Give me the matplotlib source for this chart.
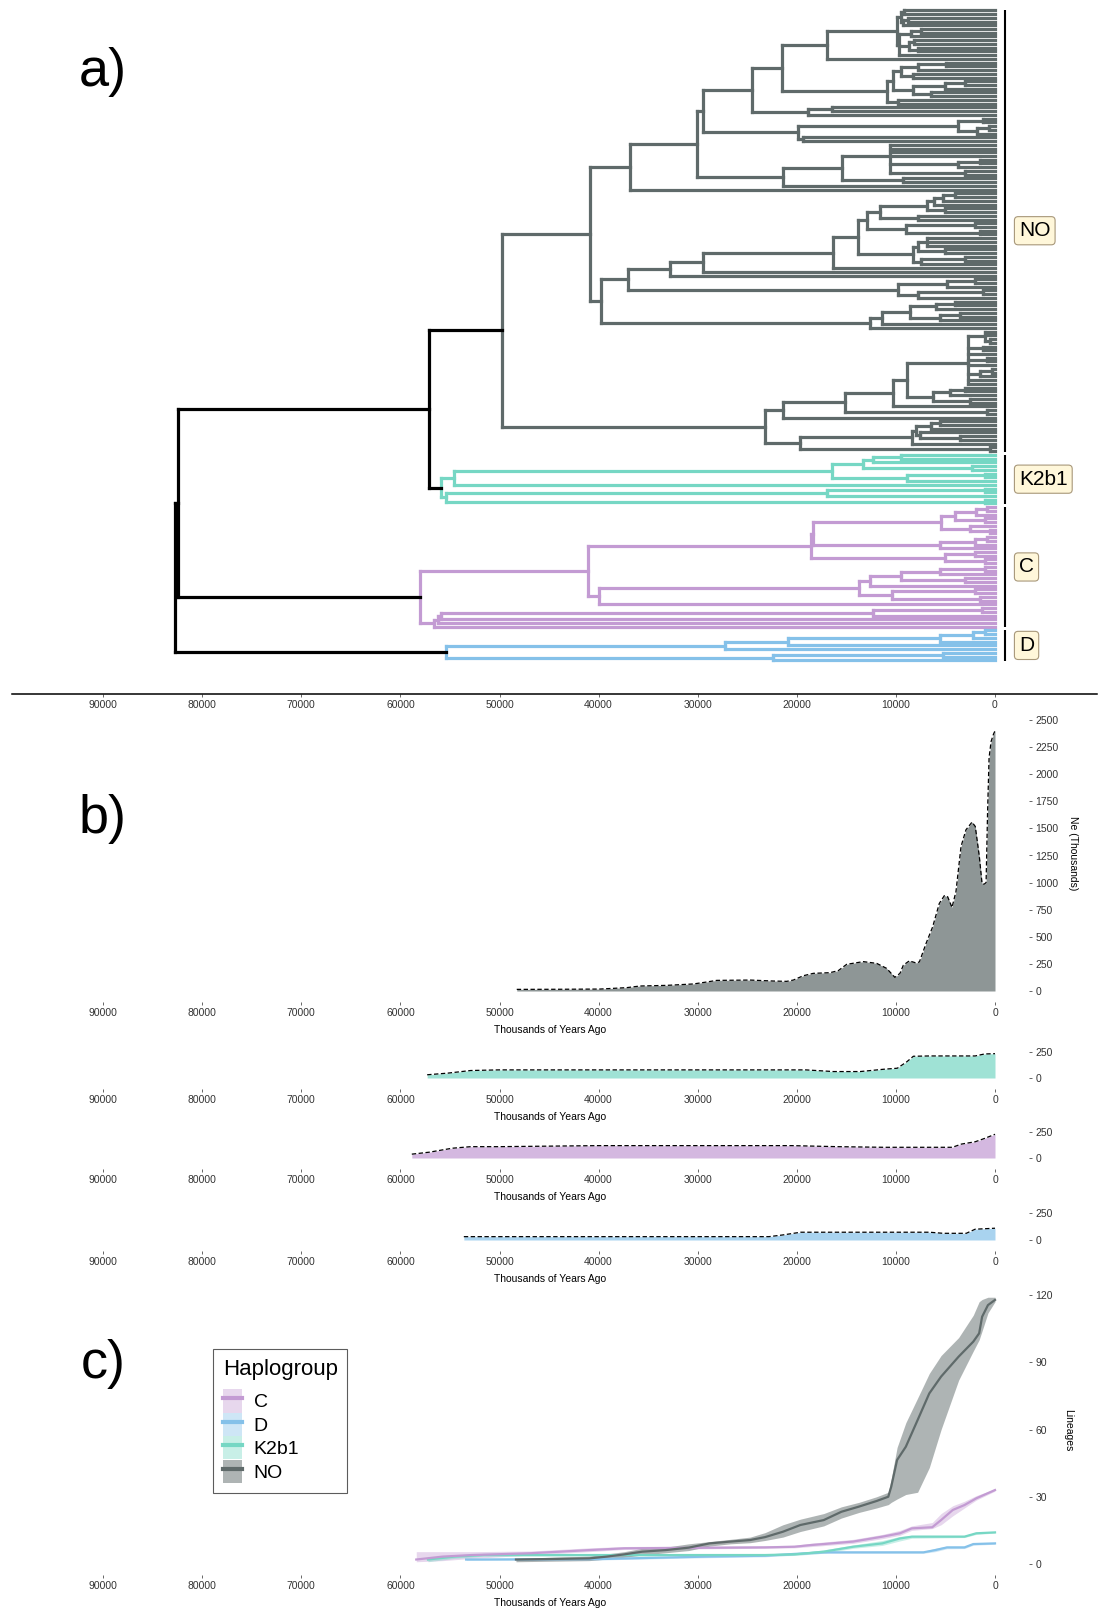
import numpy as np
import matplotlib
matplotlib.use("Agg")
import matplotlib.pyplot as plt
from matplotlib.collections import LineCollection
from matplotlib.patches import Patch
from matplotlib.lines import Line2D

plt.rcParams['font.family'] = ['Liberation Sans', 'DejaVu Sans']

# ---------------- DATA ----------------
# Tree (node labels = age in years ago, leaves = L)
C896 = "(((L,L)9200,((L,L)8800,L)9300)9500,(((L,L)7500,L)8500,((L,L)8200,(L,L)7800)8700,L)9700)9900"
N827 = "(" + C896 + ",L)16950"
C887 = "(((((L,L)4950,L)7800,(L,L)8300)9500,(((L,L)3000,L)5000,(L,L)6500)8300)10300,(L,L)9800)10900"
N752 = "((" + N827 + "," + C887 + ")21490,((L,L)16450,L)18870)24520"
N798 = "(((L,L)1200,((L,L)600,L)1800)3730,(L,L)19370)19880"
N703 = "(" + N752 + "," + N798 + ")29460"
N783 = "(((L,L,L,L,((L,L)1500,L)3730,(L,L)3030)10600,(L,L)9280)15440,L)21390"
N630 = "((" + N703 + "," + N783 + ")30070,L)36830"
N867 = "((((((L,L)4040,L)5200,L)6200,(L,L)5000)6860,(L,L)7770)11600,((L,L)2000,(L,L)1500)9000)12900"
N913 = "(((L,L,L)6860,(L,L)5000)7800,((L,L)3000,L)7500)8270"
N670 = "((((" + N867 + "," + N913 + ")13820,L)16350,L)29460,L)32790"
N898 = "(((L,L)2000,L)4840,((L,L)1200,L)7800)9790"
N870 = "(((((L,L)4000,L)6000,((L,L)3500,L)5500)8580,L)11400,L)12600"
N601 = "((" + N670 + "," + N898 + ")37030," + N870 + ")39760"
C968 = "((L,L,(L,L)500)1000,(L,L)1200,L,(L,L)800,L,((L,L)300,L)1500,L,L)2720"
N783b = "((((" + C968 + ",(((L,L)3000,L)4500,(L,L)2500)6260)8880,L)10290,(L,L)800)15140,L)21390"
N800 = "(((((L,L)5500,L)6500,(L,(L,L)3500)7600)8000,L)8370,(L,L)500)19680"
TREE_NO = "((" + N630 + "," + N601 + ")40870,(" + N783b + "," + N800 + ")23200)49750"

TREE_K2B1 = "((((((L,L)9490,L)12350,(L,L)2320)13320,((L,L)1000,L)8880)16480,L)54620,(((L,L)1000,L)16980,(L,L)960)55390)55900"

C_N872 = "((((L,L)810,L)1920,(L,L)1000)4040,(L,(L,L)500)2500)5400"
C_N758 = "((" + C_N872 + ",(((L,L)800,L)2000,L)5550)18360,((L,L)2000,(L,L)1000)5050)18570"
C_N573 = "((((((L,L)1000,L)5590,(L,L)3000)9490,L)12610,((L,L)2000,(L,L)1500)10410)13720,L)39960"
TREE_C = "((" + C_N758 + "," + C_N573 + ")41070,(((((L,L)1340,L)12350,L)55900,L)56200,L)56560)58020"

TREE_D = "((((((L,L)1000,L)2220,L)5550,L)20890,L)27240,((L,L)5250,L)22400)55400"

BACKBONE = "(((NO,K2b1)57110,C)82490,D)82740"

clades = ["NO", "K2b1", "C", "D"]
clade_colors = {"NO": "#5F6A6A", "K2b1": "#76D7C4", "C": "#C39BD3", "D": "#85C1E9"}

x_ticks = [0, 10000, 20000, 30000, 40000, 50000, 60000, 70000, 80000, 90000]

# Skyline (Ne, thousands) per haplogroup
NO_sky_t = [48260, 44000, 39850, 37160, 35820, 33130, 30440, 29090, 28080, 24720, 22370, 21020, 20350,
            19340, 18330, 16650, 15810, 14970, 13290, 11940, 10940, 10100, 9590, 9250, 8650, 7970, 7630,
            6960, 6290, 5620, 5110, 4780, 4340, 3940, 3430, 2930, 2320, 1990, 1580, 1310, 1100, 900, 750,
            600, 400, 150, 0]
NO_sky_ne = [15, 16, 18, 31, 46, 52, 65, 83, 98, 101, 92, 89, 101,
             141, 163, 169, 188, 246, 271, 255, 209, 126, 163, 238, 278, 259, 268,
             438, 592, 808, 880, 870, 771, 917, 1333, 1487, 1558, 1518, 1241, 994, 985, 1000, 1650,
             2150, 2300, 2370, 2400]
K2b1_sky_t = [57300, 55200, 52900, 50100, 19100, 16300, 13600, 11250, 9860, 8900, 8240, 6600, 2000, 1060, 0]
K2b1_sky_ne = [31, 47, 72, 78, 78, 62, 62, 84, 94, 156, 209, 212, 212, 231, 234]
C_sky_t = [58850, 57080, 54770, 52900, 50100, 40000, 29800, 20500, 15900, 11250, 4300, 3380, 2000, 1060, 0]
C_sky_ne = [37, 56, 94, 109, 109, 119, 119, 119, 109, 103, 103, 134, 156, 188, 228]
D_sky_t = [53600, 22800, 21400, 19600, 6600, 5230, 2900, 2000, 0]
D_sky_ne = [31, 31, 47, 72, 72, 62, 62, 100, 109]

# Lineages through time (median and interval)
NO_ltt_t = [48340, 40950, 39170, 37400, 35600, 33250, 30900, 28800, 26700, 24700, 23200, 21400, 19640,
            17280, 15500, 13730, 11950, 10770, 10470, 9880, 9000, 7810, 6630, 5440, 3670, 2190, 1600, 1300, 710, 0]
NO_ltt_n = [2, 2.5, 3.3, 4.3, 5.5, 6.2, 7.3, 9.2, 10, 10.7, 12, 14.4, 17.4,
            19.6, 23.3, 25.6, 28.1, 30, 34.5, 46.4, 52.3, 64.2, 76.1, 83.6, 92.5, 99.2, 102.9, 110.3, 115.5, 117.8]
NO_ltt_lo = [1, 1.5, 2.2, 3, 4, 5, 6, 8, 9, 9.5, 10.5, 12, 14.5,
             17, 20.5, 23, 25, 26.5, 27.5, 29, 31, 32, 43, 60, 82, 95, 100, 104, 112, 117]
NO_ltt_hi = [2.5, 3.5, 4.5, 5.5, 7, 7.5, 9, 10, 11, 12, 14, 17.5, 20,
             22.5, 25.5, 27.5, 30, 32, 38, 52, 63, 74, 85, 93, 101, 111, 117, 118, 119, 119]
C_ltt_t = [58400, 55740, 52780, 46860, 40950, 37400, 23200, 20240, 18460, 17280, 14320, 11360, 9590, 8400,
           6330, 5440, 4260, 3080, 1890, 0]
C_ltt_n = [2, 3.3, 4, 4.8, 6.2, 7, 7.4, 7.7, 8.5, 8.9, 10, 12.2, 13.7, 15.9, 16.4, 19.6, 24.1, 26.3, 29.3, 33]
C_ltt_lo = [1, 1.5, 2.5, 4, 5.5, 6.5, 7, 7.2, 7.8, 8.2, 9.2, 11.3, 12.8, 15, 15.8, 17.5, 21.5, 25, 28.5, 32.5]
C_ltt_hi = [5.5, 5.5, 5.5, 5.8, 7.2, 7.8, 8.2, 8.4, 9.3, 9.8, 11, 13.2, 15, 17, 18.5, 22.5, 26, 28, 30.5, 33.5]
K2b1_ltt_t = [57220, 54550, 51600, 23200, 20240, 17280, 14320, 11360, 9590, 8400, 3080, 1890, 0]
K2b1_ltt_n = [2, 3.3, 4, 4, 4.3, 5.5, 7.7, 9.2, 11.4, 12.2, 12.2, 13.7, 14.1]
K2b1_ltt_lo = [1, 2.5, 3.5, 3.6, 3.8, 4.8, 7, 8.3, 10.3, 11.5, 11.8, 13.2, 13.8]
K2b1_ltt_hi = [3, 4, 4.5, 4.4, 4.8, 6.3, 8.5, 10.5, 12.3, 12.8, 12.8, 14.2, 14.4]
D_ltt_t = [53370, 40000, 29100, 23200, 20240, 17280, 7220, 6040, 4850, 3080, 2190, 0]
D_ltt_n = [2, 2.2, 3.3, 3.7, 4.5, 5.2, 5.2, 6.2, 7.4, 7.4, 8.9, 9.2]
D_ltt_lo = [1.6, 1.8, 2.8, 3.2, 4, 4.8, 4.8, 5.5, 6.8, 6.9, 8.4, 8.8]
D_ltt_hi = [2.4, 2.6, 3.8, 4.2, 5, 5.6, 5.7, 7, 8, 8, 9.4, 9.5]

# ---------------- helpers ----------------
W, H = 1099, 1610
fig = plt.figure(figsize=(W / 100, H / 100), dpi=100)
fig.patch.set_facecolor('white')

X0_PX = 995.0      # pixel of year 0
PX_PER_YR = 0.00991


def px2yr(px):
    return (X0_PX - px) / PX_PER_YR


def add_ax(l, t, r, b):
    ax = fig.add_axes([l / W, 1 - b / H, (r - l) / W, (b - t) / H])
    ax.patch.set_visible(False)
    return ax


def parse(s):
    pos = 0

    def node():
        nonlocal pos
        if s[pos] == '(':
            pos += 1
            kids = [node()]
            while s[pos] == ',':
                pos += 1
                kids.append(node())
            pos += 1
            j = pos
            while pos < len(s) and s[pos] in '0123456789.':
                pos += 1
            return {'age': float(s[j:pos]), 'kids': kids}
        j = pos
        while pos < len(s) and s[pos] not in ',()':
            pos += 1
        return {'age': 0.0, 'kids': [], 'name': s[j:pos]}
    return node()


def set_color(n, c):
    n['color'] = c
    for k in n['kids']:
        set_color(k, c)


clade_strings = {"NO": TREE_NO, "K2b1": TREE_K2B1, "C": TREE_C, "D": TREE_D}
root = parse(BACKBONE)


def graft(n):
    n.setdefault('color', 'black')
    for i, k in enumerate(n['kids']):
        if not k['kids'] and k.get('name') in clade_strings:
            sub = parse(clade_strings[k['name']])
            set_color(sub, clade_colors[k['name']])
            sub['clade'] = k['name']
            n['kids'][i] = sub
        else:
            graft(k)


graft(root)

leaf_counter = [0]
clade_range = {}


def layout(n):
    if not n['kids']:
        n['y'] = leaf_counter[0]
        leaf_counter[0] += 1
        return
    start = leaf_counter[0]
    for k in n['kids']:
        layout(k)
    n['y'] = float(np.mean([k['y'] for k in n['kids']]))
    if 'clade' in n:
        clade_range[n['clade']] = (start, leaf_counter[0] - 1)


layout(root)

segs, cols = [], []


def collect(n):
    if not n['kids']:
        return
    ys = [k['y'] for k in n['kids']]
    segs.append([(n['age'], min(ys)), (n['age'], max(ys))])
    cols.append(n['color'])
    for k in n['kids']:
        segs.append([(n['age'], k['y']), (k['age'], k['y'])])
        cols.append(n['color'])
        collect(k)


collect(root)

tick_col = '#333333'
grid_col = '#4d4d4d'

# ---------------- panel a: tree ----------------
axa = add_ax(12, 0, 1097, 694)
leaf_px0, leaf_step = 10.3, 3.736
axa.set_ylim((694 - leaf_px0) / leaf_step, (0 - leaf_px0) / leaf_step)
axa.set_xlim(px2yr(12), px2yr(1097))
order = sorted(range(len(segs)), key=lambda i: cols[i] == 'black')
lc = LineCollection([segs[i] for i in order], colors=[cols[i] for i in order], linewidths=2.3,
                    capstyle='projecting')
axa.add_collection(lc)

bar_x = px2yr(1005)
for cl in clades:
    a, b = clade_range[cl]
    axa.plot([bar_x, bar_x], [a - 0.1, b + 0.1], color='black', lw=1.5, solid_capstyle='butt')
    axa.text(px2yr(1019), (a + b) / 2, cl, ha='left', va='center', fontsize=15,
             bbox=dict(boxstyle='round,pad=0.22,rounding_size=0.18', fc='#FFF7DA', ec='#a8987a', lw=0.8))

for s in ['top', 'left', 'right']:
    axa.spines[s].set_visible(False)
axa.spines['bottom'].set_linewidth(1.1)
axa.set_yticks([])
axa.set_xticks(x_ticks)
axa.set_xticklabels([str(t) for t in x_ticks])
axa.tick_params(axis='x', length=2.5, width=0.6, color=grid_col, labelsize=7.5, labelcolor=tick_col, pad=2)
fig.text(103 / W, 1 - 72 / H, 'a)', fontsize=39, ha='center', va='center')


def style_bottom_axes(ax, yticks, ylabel=None, ylabel_px=None):
    for s in ax.spines.values():
        s.set_visible(False)
    ax.set_xlim(px2yr(71), px2yr(1029))
    ax.set_xticks(x_ticks)
    ax.set_xticklabels([str(t) for t in x_ticks])
    ax.yaxis.tick_right()
    ax.set_yticks(yticks)
    ax.set_yticklabels([str(t) for t in yticks])
    ax.tick_params(axis='both', length=2.5, width=0.6, color=grid_col, labelsize=7.5,
                   labelcolor=tick_col, pad=2)
    ax.set_xlabel('Thousands of Years Ago', fontsize=7.5, color='black')
    hpx = ax.get_position().height * H
    ax.xaxis.set_label_coords(0.5, -28 / hpx)
    ax.xaxis.label.set_va('center')
    if ylabel:
        ax.yaxis.set_label_position('right')
        ax.set_ylabel(ylabel, fontsize=7.5, rotation=270, color='black')
        ax.yaxis.set_label_coords(1 + ylabel_px / 958, 0.5)
        ax.yaxis.label.set_va('center')


# ---------------- panel b: skylines ----------------
sky = [("NO", NO_sky_t, NO_sky_ne, (705, 1002), 991, 720, 2500, list(range(0, 2501, 250))),
       ("K2b1", K2b1_sky_t, K2b1_sky_ne, (1040, 1089), 1078, 1052, 250, [0, 250]),
       ("C", C_sky_t, C_sky_ne, (1120, 1169), 1158, 1132, 250, [0, 250]),
       ("D", D_sky_t, D_sky_ne, (1200, 1251), 1240, 1213, 250, [0, 250])]
for name, t, ne, (top, bot), p0, p1, v1, yt in sky:
    ax = add_ax(71, top, 1029, bot)
    s = (p0 - p1) / v1
    ax.set_ylim(-(bot - p0) / s, v1 + (p1 - top) / s)
    ax.fill_between(t, 0, ne, color=clade_colors[name], alpha=0.7, lw=0)
    ax.plot(t, ne, color='black', lw=0.9, ls=(0, (3.5, 2)))
    if name == "NO":
        style_bottom_axes(ax, yt, 'Ne (Thousands)', 44)
    else:
        style_bottom_axes(ax, yt)
fig.text(103 / W, 1 - 819 / H, 'b)', fontsize=39, ha='center', va='center')

# ---------------- panel c: LTT ----------------
axc = add_ax(71, 1285, 1029, 1575)
s = (1564 - 1295) / 120
axc.set_ylim(-(1575 - 1564) / s, 120 + (1295 - 1285) / s)
ltt = {"C": (C_ltt_t, C_ltt_n, C_ltt_lo, C_ltt_hi),
       "D": (D_ltt_t, D_ltt_n, D_ltt_lo, D_ltt_hi),
       "K2b1": (K2b1_ltt_t, K2b1_ltt_n, K2b1_ltt_lo, K2b1_ltt_hi),
       "NO": (NO_ltt_t, NO_ltt_n, NO_ltt_lo, NO_ltt_hi)}
alphas = {"C": 0.4, "D": 0.4, "K2b1": 0.4, "NO": 0.5}
for name in ["C", "D", "K2b1", "NO"]:
    t, n, lo, hi = ltt[name]
    axc.fill_between(t, lo, hi, color=clade_colors[name], alpha=alphas[name], lw=0)
for name in ["D", "K2b1", "C", "NO"]:
    t, n, lo, hi = ltt[name]
    axc.plot(t, n, color=clade_colors[name], lw=1.6)
style_bottom_axes(axc, [0, 30, 60, 90, 120], 'Lineages', 39)

handles = [(Patch(facecolor=clade_colors[c], alpha=alphas[c], edgecolor='none'),
            Line2D([], [], color=clade_colors[c], lw=3)) for c in ["C", "D", "K2b1", "NO"]]
leg = axc.legend(handles, ["C", "D", "K2b1", "NO"], title='Haplogroup', loc='upper left',
                 bbox_to_anchor=(213 / W, 1 - 1349 / H), bbox_transform=fig.transFigure,
                 frameon=True, fancybox=False, edgecolor='#333333', fontsize=14, title_fontsize=16,
                 handlelength=1.0, handleheight=1.45, labelspacing=0.02, borderpad=0.5,
                 handletextpad=0.6, borderaxespad=0)
leg.get_frame().set_linewidth(0.8)
leg._legend_box.align = 'left'
leg._legend_box.sep = 7
fig.text(103 / W, 1 - 1364 / H, 'c)', fontsize=39, ha='center', va='center')

fig.savefig('out.png', dpi=100, facecolor='white')
